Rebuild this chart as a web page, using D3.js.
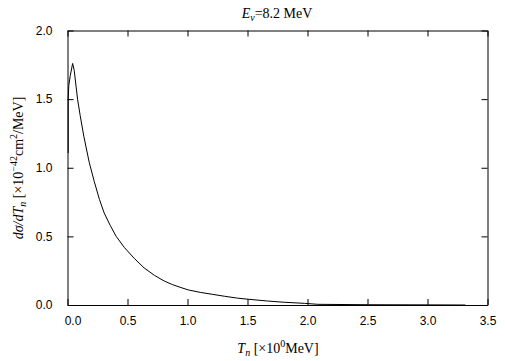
<html>
<head>
  <title>dsigma/dTn</title>
  <meta charset="utf-8" />
<script src="https://d3js.org/d3.v7.min.js"></script>
</head>
<style>
  body { margin: 0; background: #fff; }
  svg { display: block; }
  .tick text { font-family: "Liberation Sans", Arial, sans-serif; font-size: 12px; fill: #000; }
  .lbl { font-family: "Liberation Serif", "Times New Roman", serif; font-size: 14px; fill: #000; }
</style>
<body>
<svg class="main" width="505" height="361"></svg>
<script>

// T_n values (x 10^0 MeV)
const tn = [0.0, 0.0, 0.005, 0.017, 0.037, 0.05, 0.078, 0.1, 0.13, 0.175, 0.217, 0.26, 0.3, 0.35, 0.4, 0.467,
  0.55, 0.633, 0.72, 0.8, 0.87, 0.94, 1.0, 1.1, 1.2, 1.3, 1.41, 1.5, 1.66, 1.8, 1.97, 2.08, 2.5, 3.0, 3.31]
// dsigma/dT_n (x 10^-42 cm^2/MeV)
const dsig = [1.107, 1.5, 1.6, 1.67, 1.76, 1.71, 1.5, 1.38, 1.23, 1.04, 0.9, 0.77, 0.67, 0.58, 0.5, 0.42,
  0.34, 0.27, 0.215, 0.175, 0.148, 0.127, 0.11, 0.092, 0.078, 0.064, 0.05, 0.042, 0.029, 0.02, 0.012, 0.005, 0.002, 0.001, 0.0]

const xTicks = [0, 0.5, 1, 1.5, 2, 2.5, 3, 3.5]
const yTicks = [0, 0.5, 1, 1.5, 2]

const W = 505, H = 361
const m = {l: 67.5, r: 17.5, t: 30.5, b: 56}

const x = d3.scaleLinear().domain([0, 3.5]).range([m.l, W - m.r])
const y = d3.scaleLinear().domain([0, 2]).range([H - m.b, m.t])

const svg = d3.select("svg")
const fmt = d3.format(".1f")

// mirrored inward ticks on all four sides
const gx = svg.append("g").attr("transform", `translate(0,${y(0)})`)
  .call(d3.axisBottom(x).tickValues(xTicks).tickFormat(fmt).tickSizeInner(-6).tickSizeOuter(0).tickPadding(11))
svg.append("g").attr("transform", `translate(0,${y(2)})`)
  .call(d3.axisTop(x).tickValues(xTicks).tickFormat("").tickSizeInner(-6).tickSizeOuter(0))
svg.append("g").attr("transform", `translate(${x(0)},0)`)
  .call(d3.axisLeft(y).tickValues(yTicks).tickFormat(fmt).tickSizeInner(-6).tickSizeOuter(0).tickPadding(15))
svg.append("g").attr("transform", `translate(${x(3.5)},0)`)
  .call(d3.axisRight(y).tickValues(yTicks).tickFormat("").tickSizeInner(-6).tickSizeOuter(0))

svg.selectAll(".domain").attr("stroke", "#000")
svg.selectAll(".tick line").attr("stroke", "#000")
// first x label sits a bit right of the frame corner
gx.selectAll(".tick text").filter(d => d === 0).attr("dx", 5)

svg.append("path")
  .datum(d3.zip(tn, dsig))
  .attr("fill", "none")
  .attr("stroke", "#000")
  .attr("stroke-width", 1)
  .attr("d", d3.line().x(d => x(d[0]) + 0.7).y(d => y(d[1])))

// title
const t = svg.append("text").attr("class", "lbl").attr("x", 277).attr("y", 18).attr("text-anchor", "middle")
t.append("tspan").attr("font-style", "italic").text("E")
t.append("tspan").attr("font-style", "italic").attr("font-size", 10).attr("dy", 3).text("ν")
t.append("tspan").attr("dy", -3).text("=8.2 MeV")

// x label
const xl = svg.append("text").attr("class", "lbl").attr("x", 278).attr("y", 353).attr("text-anchor", "middle")
xl.append("tspan").attr("font-style", "italic").text("T")
xl.append("tspan").attr("font-style", "italic").attr("font-size", 10).attr("dy", 3).text("n")
xl.append("tspan").attr("dy", -3).text(" [×10")
xl.append("tspan").attr("font-size", 10).attr("dy", -6).text("0")
xl.append("tspan").attr("dy", 6).text("MeV]")

// y label
const yl = svg.append("text").attr("class", "lbl").attr("text-anchor", "middle")
  .attr("transform", "translate(23,168) rotate(-90)")
yl.append("tspan").attr("font-style", "italic").text("dσ/dT")
yl.append("tspan").attr("font-style", "italic").attr("font-size", 10).attr("dy", 3).text("n")
yl.append("tspan").attr("dy", -3).text(" [×10")
yl.append("tspan").attr("font-size", 10).attr("dy", -6).text("−42")
yl.append("tspan").attr("dy", 6).text("cm")
yl.append("tspan").attr("font-size", 10).attr("dy", -6).text("2")
yl.append("tspan").attr("dy", 6).text("/MeV]")

</script>
</body>
</html>
